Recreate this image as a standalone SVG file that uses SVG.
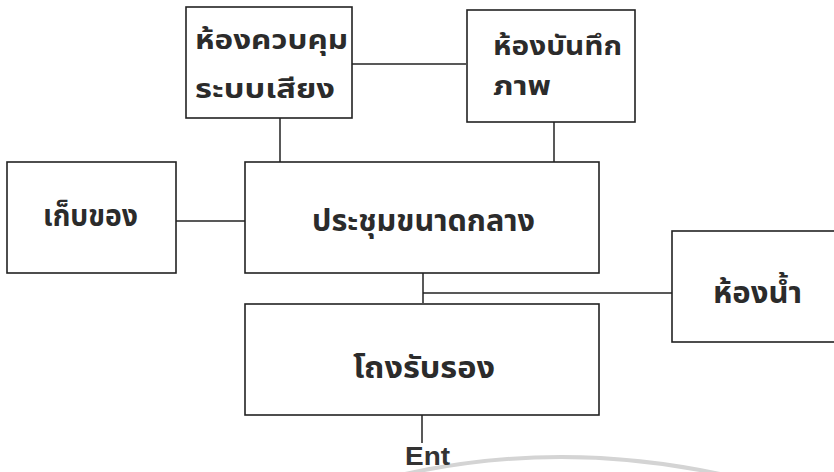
<svg xmlns="http://www.w3.org/2000/svg" width="834" height="472" viewBox="0 0 834 472">
<style>
.box{fill:#fff;stroke:#222;stroke-width:1.6}
.lbl{font-family:"Noto Sans Thai","Noto Sans","DejaVu Sans","Liberation Sans",sans-serif;font-size:30px;font-weight:bold;fill:#2b2b2b}
.sm{font-size:26px}
.con{stroke:#222;stroke-width:1.5;fill:none}
.ent{font-family:"Liberation Sans",Arial,sans-serif;font-size:26px;font-weight:bold;fill:#333}
</style>
<rect width="834" height="472" fill="#fff"/>
<path d="M405,474 Q560,440 720,474" fill="none" stroke="#d4d4d4" stroke-width="4"/>
<g id="connectors">
<line class="con" x1="352" y1="64" x2="466" y2="64"/>
<line class="con" x1="280" y1="118" x2="280" y2="162"/>
<line class="con" x1="554" y1="122" x2="554" y2="162"/>
<line class="con" x1="176" y1="221" x2="245" y2="221"/>
<line class="con" x1="423" y1="273" x2="423" y2="303"/>
<line class="con" x1="423" y1="293" x2="672" y2="293"/>
<line class="con" x1="422" y1="415" x2="422" y2="443"/>
</g>
<g id="n-control">
<rect class="box" x="186" y="7" width="166" height="111"/>
<text class="lbl sm" x="195" y="49" textLength="153" lengthAdjust="spacingAndGlyphs">ห้องควบคุม</text>
<text class="lbl sm" x="195" y="98" textLength="140" lengthAdjust="spacingAndGlyphs">ระบบเสียง</text>
</g>
<g id="n-record">
<rect class="box" x="467" y="10" width="168" height="112"/>
<text class="lbl sm" x="493" y="55" textLength="129" lengthAdjust="spacingAndGlyphs">ห้องบันทึก</text>
<text class="lbl sm" x="493" y="95" textLength="58" lengthAdjust="spacingAndGlyphs">ภาพ</text>
</g>
<g id="n-storage">
<rect class="box" x="7" y="162" width="169" height="111"/>
<text class="lbl" x="43" y="226" textLength="95" lengthAdjust="spacingAndGlyphs">เก็บของ</text>
</g>
<g id="n-meeting">
<rect class="box" x="245" y="162" width="354" height="111"/>
<text class="lbl" x="312" y="231" textLength="223" lengthAdjust="spacingAndGlyphs">ประชุมขนาดกลาง</text>
</g>
<g id="n-toilet">
<rect class="box" x="672" y="231" width="170" height="111"/>
<text class="lbl" x="713" y="303" textLength="89" lengthAdjust="spacingAndGlyphs">ห้องน้ำ</text>
</g>
<g id="n-lobby">
<rect class="box" x="245" y="304" width="354" height="111"/>
<text class="lbl" x="353" y="378" textLength="142" lengthAdjust="spacingAndGlyphs">โถงรับรอง</text>
</g>
<g id="n-ent">
<text class="ent" x="405" y="465" textLength="45" lengthAdjust="spacingAndGlyphs">Ent</text>
</g>
</svg>
